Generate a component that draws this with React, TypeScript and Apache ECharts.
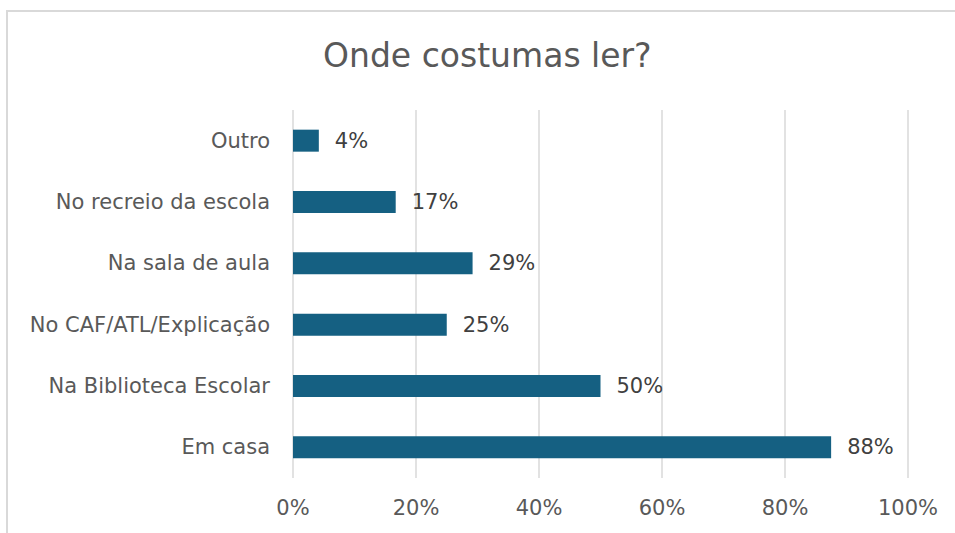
import React, { useEffect, useRef } from "react";
import * as echarts from "echarts";

const categories = ["Em casa", "Na Biblioteca Escolar", "No CAF/ATL/Explicação", "Na sala de aula", "No recreio da escola", "Outro"];
const values = [87.5, 50, 25, 29.2, 16.7, 4.2];
const title = "Onde costumas ler?";

const FONT = "DejaVu Sans";

export default function App() {
  const ref = useRef<HTMLDivElement>(null);
  useEffect(() => {
    const chart = echarts.init(ref.current!, null, { renderer: "svg" });
    chart.setOption({
      animation: false,
      backgroundColor: "#ffffff",
      textStyle: { fontFamily: FONT },
      title: {
        text: title,
        left: 323,
        top: 39,
        padding: 0,
        textStyle: { fontSize: 33, fontWeight: "normal", color: "#595959", fontFamily: FONT },
      },
      graphic: [
        {
          type: "rect",
          shape: { x: 7, y: 11, width: 1000, height: 700 },
          style: { fill: "none", stroke: "#d9d9d9", lineWidth: 2 },
          silent: true,
        },
      ],
      grid: { left: 293, right: 47, top: 110, bottom: 55, containLabel: false },
      xAxis: {
        type: "value",
        min: 0,
        max: 100,
        interval: 20,
        axisLabel: { formatter: "{value}%", fontSize: 21, color: "#595959", margin: 19 },
        splitLine: { lineStyle: { color: "#d9d9d9", width: 1.5 } },
        axisLine: { show: false },
        axisTick: { show: false },
      },
      yAxis: {
        type: "category",
        data: categories,
        axisLabel: { fontSize: 21, color: "#595959", margin: 23 },
        axisLine: { show: false },
        axisTick: { show: false },
      },
      series: [
        {
          type: "bar",
          data: values,
          barWidth: 22,
          itemStyle: { color: "#156082" },
          label: {
            show: true,
            position: "right",
            distance: 16,
            fontSize: 21,
            color: "#404040",
            formatter: (p: any) => Math.round(p.value) + "%",
          },
        },
      ],
    });
    return () => chart.dispose();
  }, []);
  return <div ref={ref} style={{ position: "absolute", left: 0, top: 0, width: 955, height: 533 }} />;
}
